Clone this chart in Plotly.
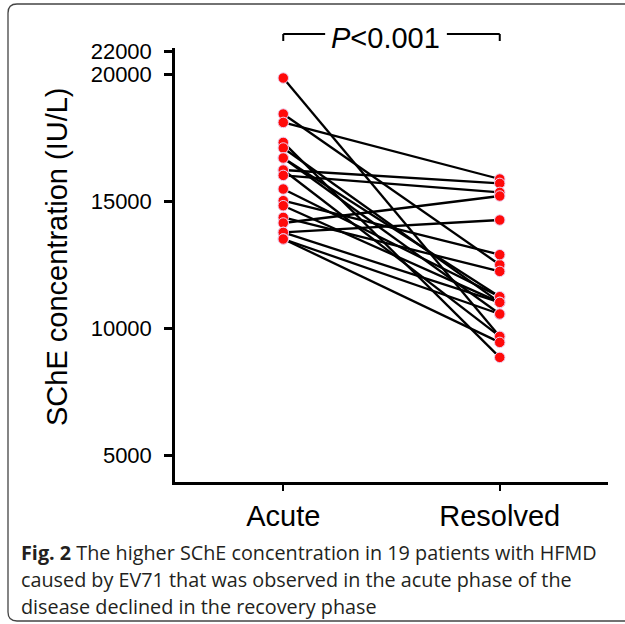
import plotly.graph_objects as go

# ---- data ----
groups = ["Acute", "Resolved"]
acute = [19843, 18425, 18094, 17307, 17087, 16693, 16693, 16220, 16220, 16008,
         15472, 15012, 14815, 14354, 14134, 13764, 13764, 13504, 13504]
resolved = [9669, 12492, 15866, 8843, 11008, 11232, 10551, 15693, 9669, 15339,
            11232, 12886, 11008, 12228, 15197, 14252, 11008, 9433, 10551]
y_ticks = [5000, 10000, 15000, 20000, 22000]
p_text = "<i>P</i>&lt;0.001"
caption_lines = [
    "<b>Fig. 2</b> The higher SChE concentration in 19 patients with HFMD",
    "caused by EV71 that was observed in the acute phase of the",
    "disease declined in the recovery phase",
]
y_title = "SChE concentration (IU/L)"

# axis break above 20000 (compressed segment)
BREAK, SQUEEZE = 20000, 0.4528
def disp(v):
    return v if v <= BREAK else BREAK + (v - BREAK) * SQUEEZE

# ---- layout geometry ----
W, H = 625, 624
L, R, T, B = 175, 17, 48, 142
PW, PH = W - L - R, H - T - B

def px(xp):
    return (xp - L) / PW
def py(yp):
    return (H - B - yp) / PH

fig = go.Figure()

# connecting lines
lx, ly = [], []
for a, r in zip(acute, resolved):
    lx += [0, 1, None]
    ly += [disp(a), disp(r), None]
fig.add_trace(go.Scatter(x=lx, y=ly, mode="lines",
                         line=dict(color="black", width=2.3),
                         hoverinfo="skip", showlegend=False))

# points
marker = dict(color="#ff0a0a", size=10.5, line=dict(color="#ecd2f2", width=1))
fig.add_trace(go.Scatter(x=[0] * len(acute), y=[disp(v) for v in acute],
                         mode="markers", marker=marker, showlegend=False))
fig.add_trace(go.Scatter(x=[1] * len(resolved), y=[disp(v) for v in resolved],
                         mode="markers", marker=marker, showlegend=False))

axis_font = dict(family="Arial, Liberation Sans, sans-serif", color="black")

fig.update_xaxes(range=[-0.5, 1.5], tickvals=[0, 1], ticktext=groups,
                 showgrid=False, zeroline=False, showline=True,
                 linecolor="black", linewidth=2.5,
                 ticks="outside", ticklen=6, tickwidth=2, tickcolor="black",
                 tickfont=dict(size=29, **axis_font), ticklabelstandoff=0)
fig.update_yaxes(range=[3937, 21024],
                 tickvals=[disp(v) for v in y_ticks],
                 ticktext=[str(v) for v in y_ticks],
                 showgrid=False, zeroline=False, showline=True,
                 linecolor="black", linewidth=2.5,
                 ticks="outside", ticklen=8, tickwidth=2.5, tickcolor="black",
                 tickfont=dict(size=22, **axis_font), ticklabelstandoff=8)

shapes = []
# significance bracket
yb, yd = py(34), py(41)
for x0, x1 in [(0, (325 - 283) / 217), ((447 - 283) / 217, 1)]:
    shapes.append(dict(type="line", xref="x", yref="paper", x0=x0, x1=x1,
                       y0=yb, y1=yb, line=dict(color="black", width=2)))
for xe in [0, 1]:
    shapes.append(dict(type="line", xref="x", yref="paper", x0=xe, x1=xe,
                       y0=yb, y1=yd, line=dict(color="black", width=2)))

# rounded frame around the figure
fl, ft, fb, fr, rad = 8, 4, 621, 640, 9
path = (f"M {px(fr)} {py(ft)} L {px(fl + rad)} {py(ft)} "
        f"Q {px(fl)} {py(ft)} {px(fl)} {py(ft + rad)} "
        f"L {px(fl)} {py(fb - rad)} "
        f"Q {px(fl)} {py(fb)} {px(fl + rad)} {py(fb)} "
        f"L {px(fr)} {py(fb)}")
shapes.append(dict(type="path", xref="paper", yref="paper", path=path,
                   line=dict(color="#444", width=1.3)))

annotations = [
    dict(text=p_text, xref="x", yref="paper", x=0.47, y=py(38),
         xanchor="center", yanchor="middle", showarrow=False,
         font=dict(size=29, **axis_font)),
    dict(text=y_title, xref="paper", yref="paper", x=px(57), y=py(257),
         xanchor="center", yanchor="middle", textangle=-90, showarrow=False,
         font=dict(size=29, **axis_font)),
]
for i, line in enumerate(caption_lines):
    annotations.append(dict(text=line, xref="paper", yref="paper",
                            x=px(19), y=py(552 + 27 * i),
                            xanchor="left", yanchor="middle", showarrow=False,
                            font=dict(family="Open Sans, sans-serif", size=19.8,
                                      color="#231f20")))

fig.update_layout(width=W, height=H, margin=dict(l=L, r=R, t=T, b=B),
                  paper_bgcolor="white", plot_bgcolor="white",
                  shapes=shapes, annotations=annotations)

fig.write_html("out.html",
               config={"displayModeBar": False},
               post_script="document.body.style.margin='0';"
                           "document.body.style.overflow='hidden';")
